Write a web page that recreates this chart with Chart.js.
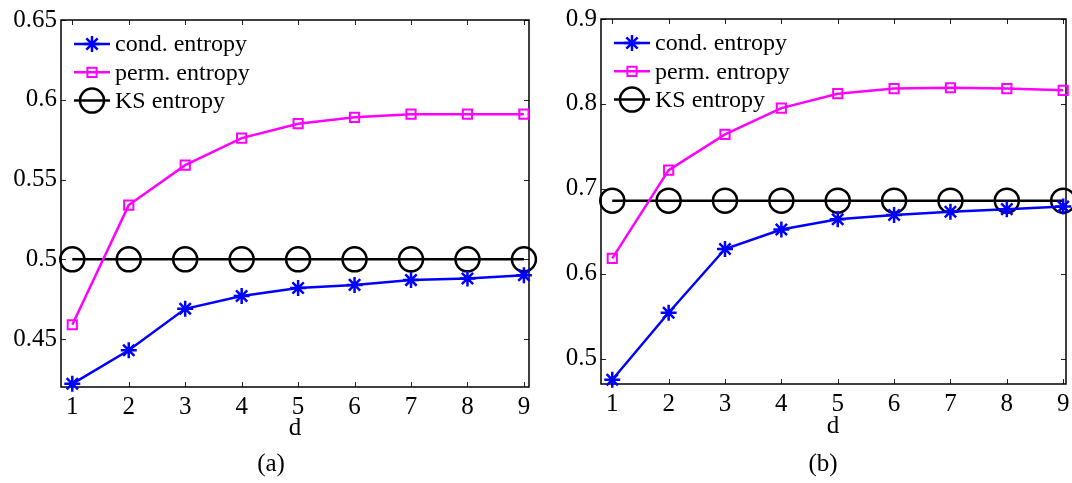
<!DOCTYPE html>
<html>
<head>
<meta charset="utf-8">
<script src="https://cdn.jsdelivr.net/npm/chart.js@4/dist/chart.umd.min.js"></script>
<style>
    body { margin: 0; background: #fff; }
    #wrap { position: relative; width: 1072px; height: 483px; overflow: hidden; }
    canvas { position: absolute; top: 0; }
    .lbl { position: absolute; transform: translate(-50%, -50%); font-family: 'Liberation Serif', 'DejaVu Serif', serif; font-size: 25px; color: #000; white-space: nowrap; }
</style>
</head>
<body>
<div id="wrap">
    <canvas id="chartA" width="540" height="483" style="left:0px"></canvas>
    <canvas id="chartB" width="532" height="483" style="left:540px"></canvas>
    <div class="lbl" style="left:295px; top:427px">d</div>
    <div class="lbl" style="left:833px; top:425px">d</div>
    <div class="lbl" style="left:271px; top:463px">(a)</div>
    <div class="lbl" style="left:823px; top:463px">(b)</div>
</div>
<script>
// x values (embedding dimension d)
const dVals = [1, 2, 3, 4, 5, 6, 7, 8, 9];

// panel (a)
const condA = [0.422, 0.443, 0.469, 0.477, 0.482, 0.484, 0.487, 0.488, 0.490];
const permA = [0.459, 0.534, 0.559, 0.576, 0.585, 0.589, 0.591, 0.591, 0.591];
const ksA = [0.5, 0.5, 0.5, 0.5, 0.5, 0.5, 0.5, 0.5, 0.5];
const yTicksA = [0.45, 0.5, 0.55, 0.6, 0.65];

// panel (b)
const condB = [0.475, 0.554, 0.629, 0.652, 0.664, 0.669, 0.673, 0.676, 0.679];
const permB = [0.618, 0.722, 0.764, 0.795, 0.812, 0.818, 0.819, 0.818, 0.816];
const ksB = [0.686, 0.686, 0.686, 0.686, 0.686, 0.686, 0.686, 0.686, 0.686];
const yTicksB = [0.5, 0.6, 0.7, 0.8, 0.9];

const seriesNames = ['cond. entropy', 'perm. entropy', 'KS entropy'];
const FONT = "'Liberation Serif', 'DejaVu Serif', serif";

// draw one marker (used for legend samples)
function drawMarker(ctx, style, x, y, r, color, lw) {
    ctx.save();
    ctx.strokeStyle = color;
    ctx.lineWidth = lw;
    ctx.beginPath();
    if (style === 'star') {
        const o = r * Math.SQRT1_2;
        ctx.moveTo(x - r, y); ctx.lineTo(x + r, y);
        ctx.moveTo(x, y - r); ctx.lineTo(x, y + r);
        ctx.moveTo(x - o, y - o); ctx.lineTo(x + o, y + o);
        ctx.moveTo(x - o, y + o); ctx.lineTo(x + o, y - o);
    } else if (style === 'rect') {
        const s = r * Math.SQRT1_2;
        ctx.rect(x - s, y - s, 2 * s, 2 * s);
    } else {
        ctx.arc(x, y, r, 0, Math.PI * 2);
    }
    ctx.stroke();
    ctx.restore();
}

// box with inward ticks on all four sides (matlab style)
const framePlugin = {
    id: 'frame',
    beforeDatasetsDraw(chart) {
        const ctx = chart.ctx;
        const a = chart.chartArea;
        const xs = chart.scales.x;
        const ys = chart.scales.y;
        const tl = 5;
        ctx.save();
        ctx.strokeStyle = '#222';
        ctx.lineWidth = 1;
        ctx.beginPath();
        xs.ticks.forEach(t => {
            const px = Math.round(xs.getPixelForValue(t.value)) + 0.5;
            ctx.moveTo(px, a.bottom); ctx.lineTo(px, a.bottom - tl);
            ctx.moveTo(px, a.top); ctx.lineTo(px, a.top + tl);
        });
        ys.ticks.forEach(t => {
            const py = Math.round(ys.getPixelForValue(t.value)) + 0.5;
            ctx.moveTo(a.left, py); ctx.lineTo(a.left + tl, py);
            ctx.moveTo(a.right, py); ctx.lineTo(a.right - tl, py);
        });
        ctx.stroke();
        ctx.strokeStyle = '#000';
        ctx.lineWidth = 1.5;
        ctx.strokeRect(a.left, a.top, a.right - a.left, a.bottom - a.top);
        ctx.restore();
    }
};

// legend inside the upper-left corner, no box
const legendPlugin = {
    id: 'innerLegend',
    afterDraw(chart) {
        const ctx = chart.ctx;
        const a = chart.chartArea;
        ctx.save();
        ctx.font = '24px ' + FONT;
        ctx.textBaseline = 'middle';
        ctx.fillStyle = '#000';
        chart.data.datasets.forEach((ds, i) => {
            const y = a.top + 24 + i * 28.3;
            const x0 = a.left + 13;
            const x1 = a.left + 49;
            ctx.strokeStyle = ds.borderColor;
            ctx.lineWidth = ds.borderWidth;
            ctx.beginPath();
            ctx.moveTo(x0, y); ctx.lineTo(x1, y);
            ctx.stroke();
            drawMarker(ctx, ds.pointStyle, (x0 + x1) / 2, y, ds.pointRadius, ds.pointBorderColor, ds.pointBorderWidth);
            ctx.fillText(ds.label, x1 + 5, y + 1);
        });
        ctx.restore();
    }
};

function makeDatasets(cond, perm, ks) {
    return [{
        label: seriesNames[0],
        data: dVals.map((d, i) => ({ x: d, y: cond[i] })),
        borderColor: '#0000ff',
        borderWidth: 2.5,
        pointStyle: 'star',
        pointRadius: 8,
        pointBorderColor: '#0000ff',
        pointBorderWidth: 2.5,
        pointBackgroundColor: 'transparent',
        clip: false
    }, {
        label: seriesNames[1],
        data: dVals.map((d, i) => ({ x: d, y: perm[i] })),
        borderColor: '#ff00ff',
        borderWidth: 2.5,
        pointStyle: 'rect',
        pointRadius: 6.5,
        pointBorderColor: '#ff00ff',
        pointBorderWidth: 2,
        pointBackgroundColor: 'transparent',
        clip: false
    }, {
        label: seriesNames[2],
        data: dVals.map((d, i) => ({ x: d, y: ks[i] })),
        borderColor: '#000000',
        borderWidth: 2.5,
        pointStyle: 'circle',
        pointRadius: 12,
        pointBorderColor: '#000000',
        pointBorderWidth: 2.5,
        pointBackgroundColor: 'transparent',
        clip: false
    }];
}

function noPad(s) {
    s.paddingLeft = 0;
    s.paddingRight = 0;
    s.paddingTop = 0;
    s.paddingBottom = 0;
}

function makeChart(id, datasets, yMin, yMax, yTicks, xMax, pad, xHeight) {
    const tickFont = { family: FONT, size: 25 };
    return new Chart(document.getElementById(id), {
        type: 'line',
        data: { datasets: datasets },
        plugins: [framePlugin, legendPlugin],
        options: {
            responsive: false,
            animation: false,
            devicePixelRatio: 1,
            layout: { padding: pad, autoPadding: false },
            plugins: { legend: { display: false }, tooltip: { enabled: false } },
            elements: { line: { tension: 0 } },
            scales: {
                x: {
                    type: 'linear',
                    min: 0.8,
                    max: xMax,
                    grid: { display: false, drawTicks: false },
                    border: { display: false },
                    ticks: { font: tickFont, color: '#000', padding: 5, maxRotation: 0 },
                    afterBuildTicks: s => { s.ticks = dVals.map(v => ({ value: v })); },
                    afterFit: s => { s.height = xHeight; noPad(s); }
                },
                y: {
                    type: 'linear',
                    min: yMin,
                    max: yMax,
                    grid: { display: false, drawTicks: false },
                    border: { display: false },
                    ticks: { font: tickFont, color: '#000', padding: 4, callback: v => String(v) },
                    afterBuildTicks: s => { s.ticks = yTicks.map(v => ({ value: v })); },
                    afterFit: s => { s.width = 61; noPad(s); }
                }
            }
        }
    });
}

document.addEventListener('DOMContentLoaded', function() {
    makeChart('chartA', makeDatasets(condA, permA, ksA), 0.42, 0.65, yTicksA, 9.09,
        { top: 20, right: 11, left: 0, bottom: 0 }, 96);
    makeChart('chartB', makeDatasets(condB, permB, ksB), 0.47, 0.9, yTicksB, 9.05,
        { top: 19, right: 6, left: 0, bottom: 0 }, 99);
});
</script>
</body>
</html>
